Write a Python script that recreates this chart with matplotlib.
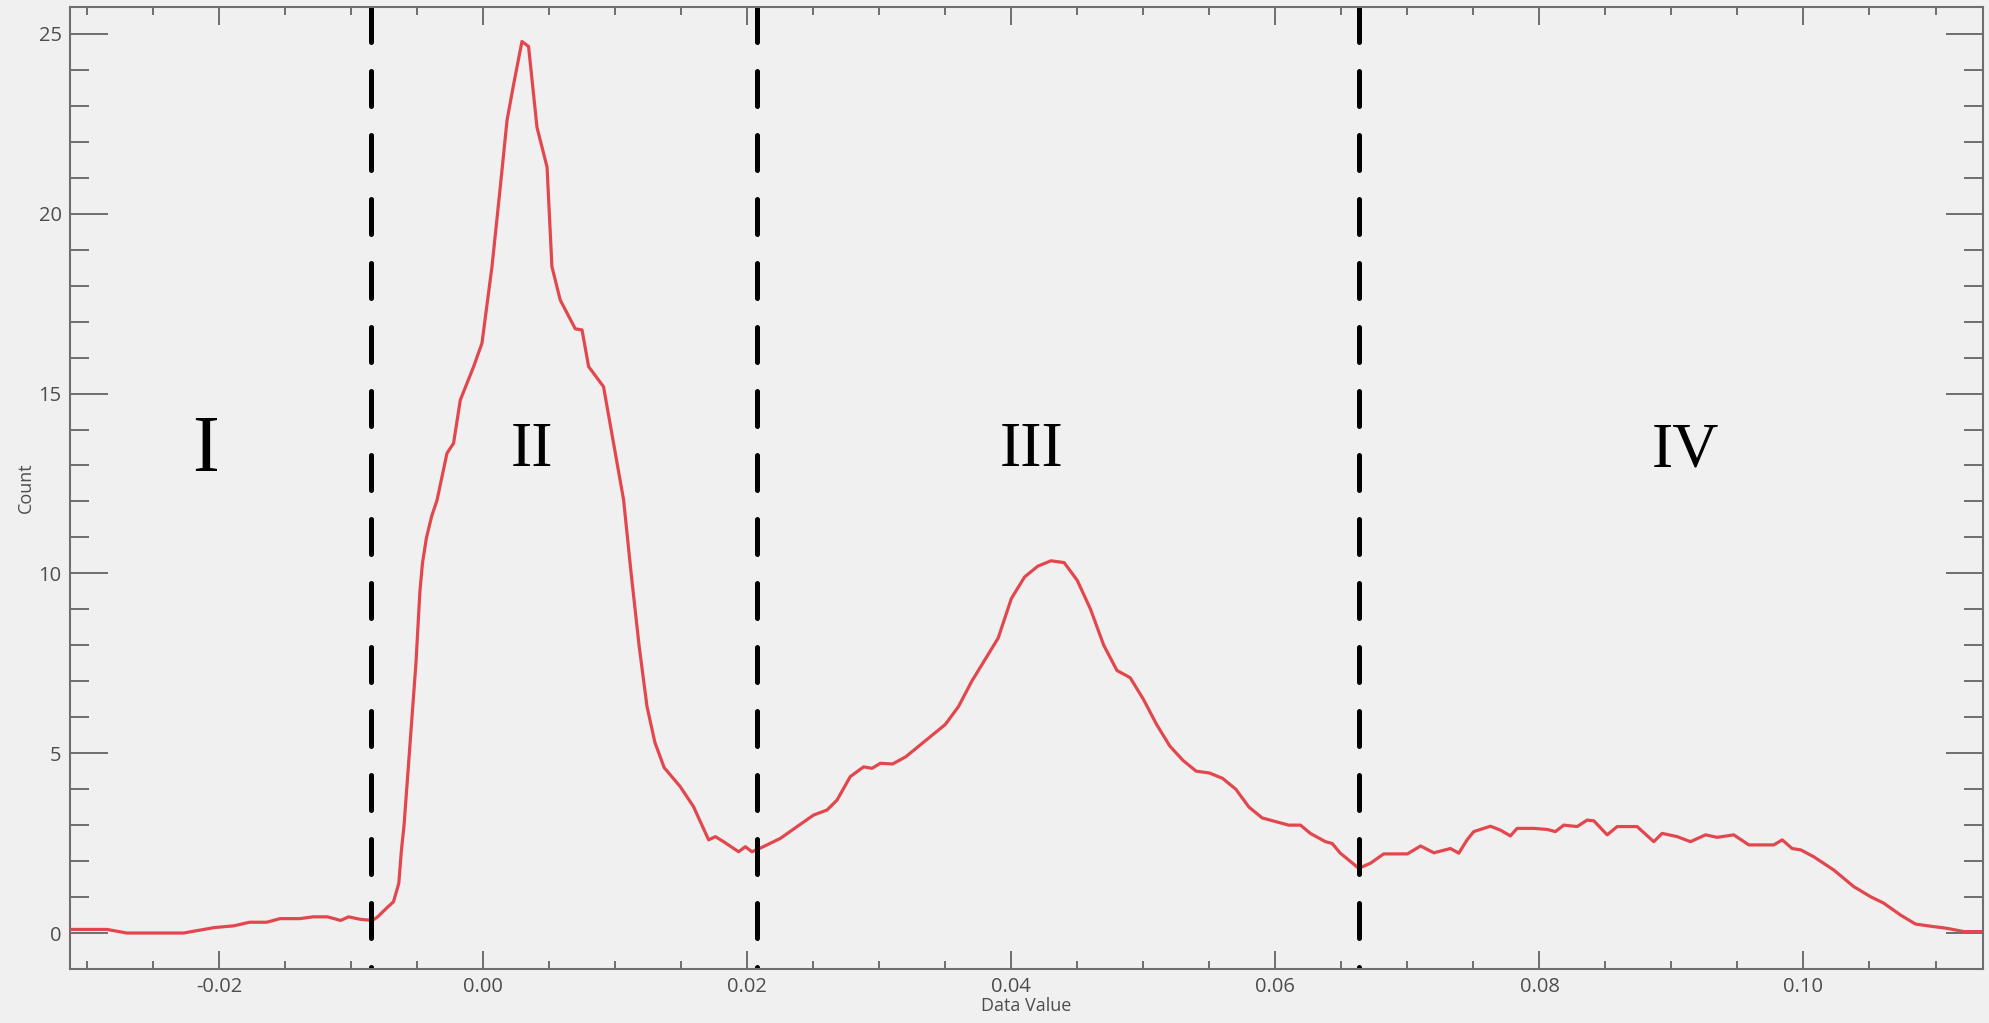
import matplotlib
matplotlib.use("Agg")
import matplotlib.pyplot as plt
from matplotlib.ticker import MultipleLocator, FormatStrFormatter

# histogram curve
data_value = [
    -0.0312, -0.0285, -0.0270, -0.0250, -0.0227, -0.0204, -0.0189, -0.0177,
    -0.0164, -0.0154, -0.0139, -0.0129, -0.0118, -0.0108, -0.0102, -0.0093,
    -0.0084, -0.0080, -0.0073, -0.0068, -0.0064, -0.0062, -0.0060, -0.0057,
    -0.0054, -0.0051, -0.0048, -0.0046, -0.0043, -0.0039, -0.0035, -0.00275,
    -0.00225, -0.00174, -0.00073, -0.0001, 0.00066, 0.00129, 0.0018, 0.0023,
    0.00293, 0.00343, 0.00407, 0.00483, 0.0052, 0.00583, 0.00697, 0.00748,
    0.00798, 0.00911, 0.01063, 0.0112, 0.0118, 0.0124, 0.0130, 0.0137,
    0.01492, 0.01593, 0.01707, 0.01758, 0.0182, 0.01934, 0.01985, 0.02035,
    0.02098, 0.0225, 0.02377, 0.02502, 0.02604, 0.0268, 0.0278, 0.02881,
    0.02945, 0.03008, 0.031, 0.032, 0.033, 0.034, 0.035, 0.036,
    0.037, 0.038, 0.039, 0.040, 0.041, 0.042, 0.043, 0.044,
    0.045, 0.046, 0.047, 0.048, 0.049, 0.050, 0.051, 0.052,
    0.053, 0.054, 0.055, 0.056, 0.057, 0.058, 0.059, 0.060,
    0.061, 0.0619, 0.06265, 0.06379, 0.0643, 0.06492, 0.06631, 0.0672,
    0.0682, 0.0700, 0.0710, 0.0720, 0.07326, 0.07389, 0.07452, 0.07502,
    0.07629, 0.07705, 0.0778, 0.07831, 0.07957, 0.08058, 0.08121, 0.08184,
    0.08286, 0.08361, 0.08412, 0.08513, 0.08589, 0.0874, 0.08866, 0.08929,
    0.09043, 0.09144, 0.09258, 0.09346, 0.09472, 0.09586, 0.09775, 0.09839,
    0.09914, 0.09980, 0.10078, 0.1023, 0.10381, 0.10508, 0.10608, 0.10735,
    0.10848, 0.10962, 0.11088, 0.11215, 0.11360,
]
count = [
    0.10, 0.10, 0.00, 0.00, 0.00, 0.15, 0.20, 0.30,
    0.30, 0.40, 0.40, 0.45, 0.45, 0.35, 0.45, 0.38,
    0.35, 0.45, 0.70, 0.87, 1.38, 2.30, 3.00, 4.50,
    6.00, 7.50, 9.50, 10.30, 11.00, 11.60, 12.04, 13.34,
    13.62, 14.82, 15.75, 16.40, 18.53, 20.75, 22.60, 23.60,
    24.79, 24.65, 22.40, 21.30, 18.53, 17.60, 16.80, 16.77,
    15.75, 15.19, 12.04, 10.00, 8.00, 6.30, 5.30, 4.60,
    4.07, 3.51, 2.59, 2.68, 2.54, 2.26, 2.40, 2.26,
    2.36, 2.63, 2.96, 3.28, 3.42, 3.70, 4.35, 4.62,
    4.58, 4.72, 4.70, 4.90, 5.20, 5.50, 5.80, 6.30,
    7.00, 7.60, 8.20, 9.30, 9.90, 10.20, 10.35, 10.30,
    9.80, 9.00, 8.00, 7.30, 7.10, 6.50, 5.80, 5.20,
    4.80, 4.50, 4.45, 4.30, 4.00, 3.50, 3.20, 3.10,
    3.00, 3.00, 2.77, 2.54, 2.49, 2.22, 1.80, 1.94,
    2.20, 2.20, 2.42, 2.23, 2.35, 2.22, 2.59, 2.82,
    2.97, 2.86, 2.70, 2.91, 2.91, 2.88, 2.82, 3.00,
    2.96, 3.14, 3.12, 2.73, 2.96, 2.96, 2.54, 2.77,
    2.68, 2.54, 2.73, 2.66, 2.73, 2.45, 2.45, 2.59,
    2.35, 2.31, 2.12, 1.75, 1.29, 1.01, 0.83, 0.50,
    0.25, 0.19, 0.13, 0.04, 0.04,
]

# region boundaries and labels
dividers = [-0.00848, 0.02076, 0.0663]
region_names = ["I", "II", "III", "IV"]
region_x = [-0.0210, 0.0037, 0.0415, 0.0911]
region_y = 13.4

plt.rcParams["axes.unicode_minus"] = False
bg = "#f0f0f0"
axis_grey = "#6e6e6e"
label_grey = "#4d4d4d"

fig = plt.figure(figsize=(19.9, 10.23), dpi=100, facecolor=bg)
ax = fig.add_axes([0.0352, 0.0528, 0.9613, 0.9404], facecolor=bg)

ax.plot(data_value, count, color="#e2474d", linewidth=2.3)

# dashed dividers, drawn top-down so the dash pattern starts at the top
for xv in dividers:
    ax.plot([xv, xv], [1, 0], transform=ax.get_xaxis_transform(),
            color="black", linewidth=3.6, linestyle=(0, (7.0, 5.8)),
            dash_capstyle="round")

for name, xv in zip(region_names, region_x):
    size = 58 if name == "I" else 46
    ax.text(xv, region_y, name, ha="center", va="center", fontsize=size,
            family="Liberation Serif", color="black")

ax.set_xlim(-0.0313, 0.1136)
ax.set_ylim(-1.0, 25.75)

ax.xaxis.set_major_locator(MultipleLocator(0.02))
ax.xaxis.set_minor_locator(MultipleLocator(0.005))
ax.xaxis.set_major_formatter(FormatStrFormatter("%.2f"))
ax.yaxis.set_major_locator(MultipleLocator(5))
ax.yaxis.set_minor_locator(MultipleLocator(1))

ax.tick_params(axis="both", which="both", direction="in", top=True, right=True,
               color=axis_grey, width=1.4, labelcolor=label_grey,
               labelsize=14.5)
ax.tick_params(axis="x", which="major", length=13, pad=6)
ax.tick_params(axis="x", which="minor", length=6)
ax.tick_params(axis="y", which="major", length=27, pad=6)
ax.tick_params(axis="y", which="minor", length=14)
for lab in ax.get_xticklabels() + ax.get_yticklabels():
    lab.set_family("Open Sans")

for spine in ax.spines.values():
    spine.set_color(axis_grey)
    spine.set_linewidth(1.5)

ax.set_xlabel("Data Value", fontsize=13, family="Open Sans", color=label_grey,
              labelpad=0)
ax.set_ylabel("Count", fontsize=13, family="Open Sans", color=label_grey,
              labelpad=3)

fig.savefig("out.png", dpi=100, facecolor=bg)
plt.close(fig)
